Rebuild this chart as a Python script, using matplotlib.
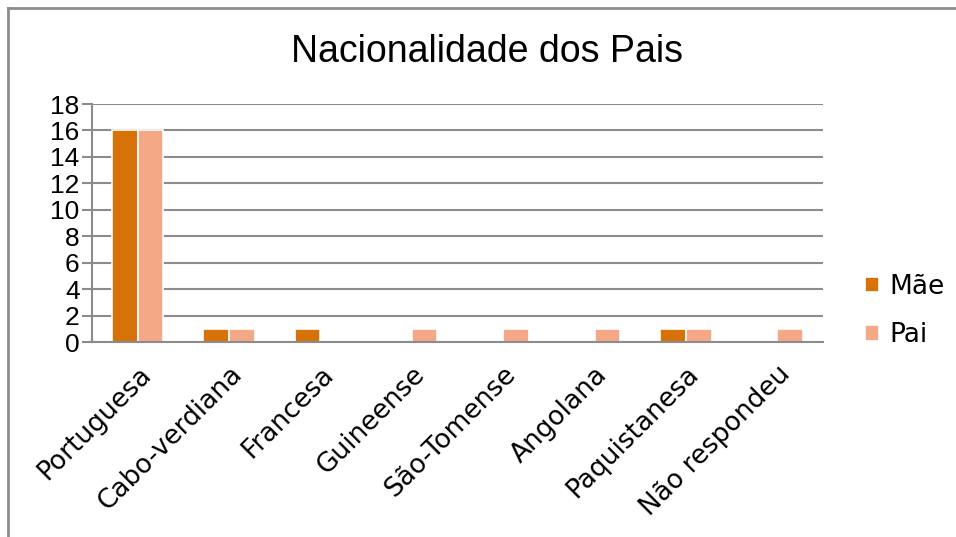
import matplotlib.pyplot as plt
import numpy as np
from matplotlib.lines import Line2D

categories = ["Portuguesa", "Cabo-verdiana", "Francesa", "Guineense",
              "São-Tomense", "Angolana", "Paquistanesa", "Não respondeu"]
mae = [16, 1, 1, 0, 0, 0, 1, 0]
pai = [16, 1, 0, 1, 1, 1, 1, 1]
y_ticks = [0, 2, 4, 6, 8, 10, 12, 14, 16, 18]

MAE_COLOR = "#D77208"
PAI_COLOR = "#F4A886"
GRID_COLOR = "#8C8C8C"

fig = plt.figure(figsize=(9.56, 5.37), dpi=100)
ax = fig.add_axes([92 / 956, 1 - 342 / 537, (823 - 92) / 956, (342 - 104) / 537])
ax.set_axisbelow(True)

x = np.arange(len(categories))
width = 0.28
ax.bar(x - width / 2, mae, width, color=MAE_COLOR, edgecolor="white",
       linewidth=1.2, label="Mãe", zorder=2)
ax.bar(x + width / 2, pai, width, color=PAI_COLOR, edgecolor="white",
       linewidth=1.2, label="Pai", zorder=2)

ax.set_xlim(-0.5, len(categories) - 0.5)
ax.set_ylim(0, 18)
ax.set_yticks(y_ticks)
ax.set_yticklabels([str(v) for v in y_ticks], family="Liberation Sans", fontsize=19)
ax.yaxis.grid(True, color=GRID_COLOR, linewidth=1.5)
ax.tick_params(axis="y", length=7, width=1.5, color=GRID_COLOR, pad=2)

ax.set_xticks(x)
ax.set_xticklabels(categories, rotation=45, ha="right", rotation_mode="anchor",
                   family="DejaVu Sans", fontsize=19)
ax.tick_params(axis="x", length=0, pad=14)

for side in ["top", "right"]:
    ax.spines[side].set_visible(False)
for side in ["left", "bottom"]:
    ax.spines[side].set_color(GRID_COLOR)
    ax.spines[side].set_linewidth(1.5)
    ax.spines[side].set_zorder(3)

fig.text(487 / 956, 1 - 52 / 537, "Nacionalidade dos Pais", ha="center",
         va="center", family="Liberation Sans", fontsize=27)

ax.legend(loc="center left", bbox_to_anchor=(841 / 956, 1 - 311 / 537),
          bbox_transform=fig.transFigure, frameon=False,
          prop={"family": "DejaVu Sans", "size": 19},
          handlelength=0.55, handleheight=0.55, handletextpad=0.4,
          labelspacing=0.85)

# chart frame: only the top and left edges fall inside the picture
fig.add_artist(Line2D([7.5 / 956, 1], [1 - 7.5 / 537, 1 - 7.5 / 537],
                      transform=fig.transFigure, color=GRID_COLOR, linewidth=2))
fig.add_artist(Line2D([7.5 / 956, 7.5 / 956], [0, 1 - 7.5 / 537],
                      transform=fig.transFigure, color=GRID_COLOR, linewidth=2))

fig.savefig("out.png", dpi=100)
